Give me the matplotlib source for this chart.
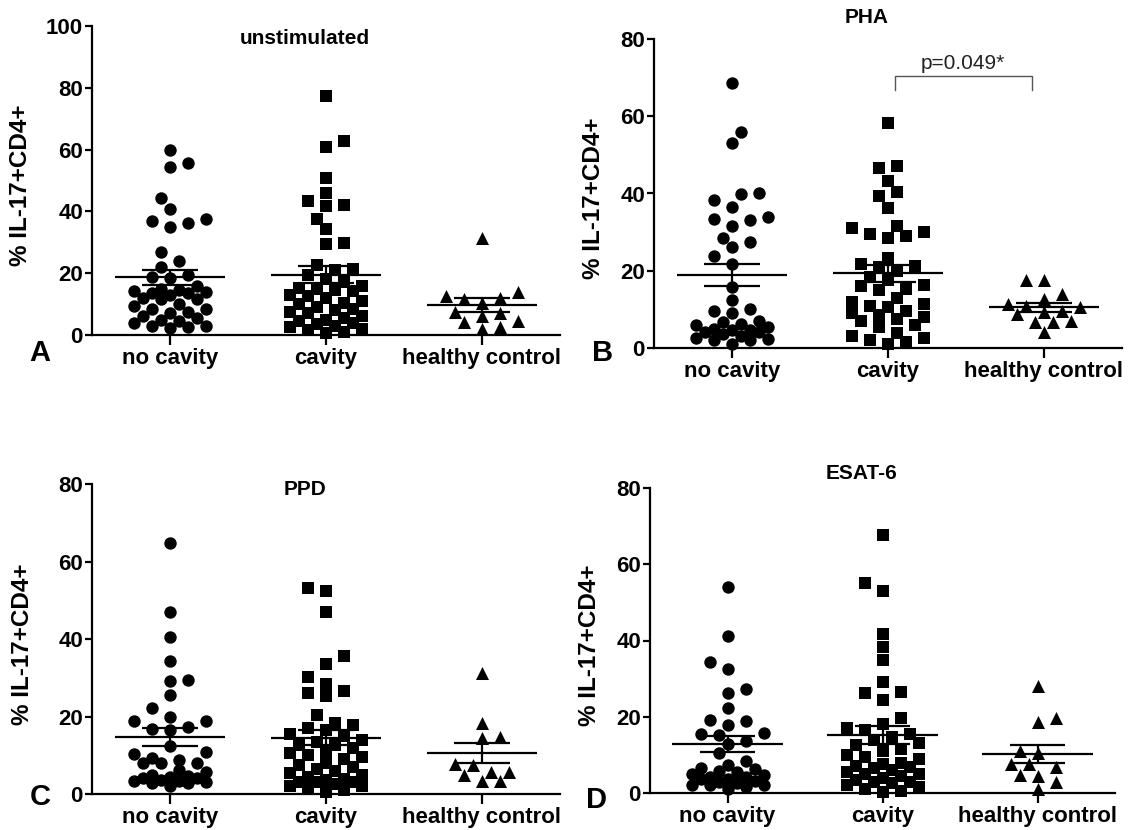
import numpy as np
import matplotlib
matplotlib.use("Agg")
import matplotlib.pyplot as plt

plt.rcParams['font.family'] = ['Liberation Sans', 'DejaVu Sans']
plt.rcParams['font.weight'] = 'bold'

groups = ['no cavity', 'cavity', 'healthy control']

# % IL-17+CD4+ values
unstim_nocav = [60.0, 55.7, 54.3, 44.4, 40.8, 37.6, 36.8, 36.2, 34.9, 26.8, 24.1, 21.9, 19.5,
                18.7, 18.5, 16, 15, 14.5, 14.3, 14, 13.7, 13.5, 13, 12, 11.7, 11.5, 10, 9.4,
                8.5, 8.4, 7.5, 7, 6, 5.6, 5, 4.5, 4, 3, 2.9, 2.5, 2.4]
unstim_cav = [77.5, 62.7, 60.8, 50.9, 45.9, 43.3, 42.2, 41.7, 37.6, 34.3, 29.8, 29.3, 22.5,
              21.4, 21, 19.5, 15.2, 14.1, 18, 17, 16, 15, 14.5, 13, 12.5, 12, 11, 10.5, 10,
              9, 8.5, 8, 7.5, 7, 6, 5.5, 5, 4.5, 4, 3.5, 3, 2.5, 2, 1.5, 1, 0.5]
unstim_hc = [31.5, 14, 12.7, 12, 11.5, 10.5, 7.5, 7, 6.3, 4.4, 4.1, 2.5, 1.9]

pha_nocav = [68.6, 56, 53.2, 40.1, 39.8, 38.3, 36.6, 34, 33.4, 33.1, 31.7, 28.6, 27.4, 26.1,
             23.9, 21.8, 15.7, 12.3, 10.2, 9.7, 9.0, 7, 6.7, 6.3, 6.0, 5.5, 5.0, 4.6, 4.6,
             4.1, 4.1, 3.5, 3.0, 2.6, 2.4, 2.0, 2.0, 1.1]
pha_cav = [58.3, 47, 46.5, 43.3, 40.5, 39.4, 36.2, 31.7, 31, 30.1, 29.5, 29.1, 28.6, 23.2,
           21.8, 21.3, 21, 20, 18.5, 17.5, 16.2, 16, 15.3, 15, 13, 12, 11.5, 11, 10.5, 9.5,
           9, 8.5, 8, 7.5, 7, 6, 5.5, 4, 3, 2.5, 2, 1.5, 1]
pha_hc = [17.5, 17.5, 14, 12.7, 11.4, 11, 10.5, 9.7, 9.3, 8.8, 7.1, 6.7, 6.7, 4.1]

ppd_nocav = [64.8, 47, 40.5, 34.2, 29.5, 29.1, 25.6, 22.2, 20, 18.9, 18.9, 17.3, 16.8, 16.6,
             12.5, 10.8, 10.2, 9.3, 8.9, 8.0, 8.0, 8.0, 6.1, 5.7, 5.0, 4.6, 4.4, 4.1, 4.1,
             3.5, 3.3, 3.3, 3.0, 2.8, 2.8, 2.0]
ppd_cav = [53.2, 52.3, 46.9, 35.7, 33.6, 30.2, 28.5, 26.5, 26.1, 25.2, 20.3, 18.3, 17.9, 17,
           16.5, 15.5, 15, 14, 13.5, 12.7, 12.7, 12, 11, 10.5, 10, 9.5, 9, 8, 7.5, 7, 6.5,
           6, 5.5, 5, 4.5, 4, 3.5, 3, 3, 3, 2.5, 2, 2, 1.5, 1, 0.5]
ppd_hc = [31.2, 18.3, 14.6, 14.5, 7.8, 7.6, 5.8, 5.6, 5.0, 3.3, 3.3]

esat_nocav = [54, 41.3, 34.3, 32.4, 27.4, 26.3, 22.3, 19.1, 19.0, 17.8, 15.7, 15.5, 15.2, 13.7,
              12.9, 10.5, 8.3, 7.4, 6.5, 6.3, 5.8, 5.5, 5.0, 4.8, 4.2, 4.2, 3.7, 3.7, 3.2,
              3.0, 2.5, 2.0, 2.0, 2.0, 1.6, 1.1]
esat_cav = [67.8, 55.2, 53.1, 41.8, 38.3, 34.8, 29.2, 26.6, 26.3, 24.4, 19.8, 18.1, 17, 16.5,
            15.5, 14.8, 14, 13, 12.5, 11.5, 11, 10, 9.5, 9, 8, 7.5, 7, 6.8, 6.5, 6, 5.5, 5,
            5, 4.5, 4, 3.5, 3, 3, 2.5, 2, 1.5, 1, 0.5, 0.3]
esat_hc = [28.0, 19.8, 18.6, 11.1, 10.6, 7.6, 7.6, 6.7, 4.7, 4.5, 2.8, 1.0]

titles = ['unstimulated', 'PHA', 'PPD', 'ESAT-6']
letters = ['A', 'B', 'C', 'D']
ymax = [100, 80, 80, 80]
markers = ['o', 's', '^']
msizes = [80, 68, 88]

W, H = 1130, 830
fig = plt.figure(figsize=(W / 100, H / 100), dpi=100)


def px_axes(x0, x1, y0, y1):
    # pixel box (left, right, y of zero line, y of top tick) -> axes
    return fig.add_axes([x0 / W, 1 - y0 / H, (x1 - x0) / W, (y0 - y1) / H])


def swarm(ax, vals, xc, step=9.0, dmin=12.5, maxk=4):
    # column scatter: greedy placement on a 9 px grid, capped width, overlap when full
    p0 = ax.transData.transform((0, 0))
    p1 = ax.transData.transform((1, 1))
    sx, sy = p1[0] - p0[0], p1[1] - p0[1]
    vals = np.asarray(vals, float)
    xs = np.zeros(len(vals))
    placed = []
    flip = 1
    for i in np.argsort(vals, kind='stable'):
        yp = vals[i] * sy
        cands = [0]
        for j in range(1, maxk + 1):
            cands += [flip * j, -flip * j]
        best, bestd = None, -1
        for c in cands:
            xp = c * step
            d = min([np.hypot(xp - a, yp - b) for a, b in placed] or [1e9])
            if d >= dmin:
                best = c
                break
            if d > bestd + 0.5:
                best, bestd = c, d
        if best != 0:
            flip = -flip
        placed.append((best * step, yp))
        xs[i] = xc + best * step / sx
    return xs


boxes = [(92, 560, 335, 26), (654, 1122, 348, 39), (92, 560, 794, 484), (650, 1115, 793, 488)]
data = [(unstim_nocav, unstim_cav, unstim_hc), (pha_nocav, pha_cav, pha_hc),
        (ppd_nocav, ppd_cav, ppd_hc), (esat_nocav, esat_cav, esat_hc)]
title_y = [96, 85.5, 78.5, 83.7]
letter_pos = [(40, 353), (603, 353), (40, 797), (597, 800)]
ylab_x = [21, 593, 23, 589]

for k in range(4):
    x0, x1, y0, y1 = boxes[k]
    ax = px_axes(x0, x1, y0, y1)
    ax.set_xlim(-0.5, 2.5)
    ax.set_ylim(0, ymax[k])
    for s in ['top', 'right']:
        ax.spines[s].set_visible(False)
    for s in ['left', 'bottom']:
        ax.spines[s].set_linewidth(1.6)
    ax.set_yticks(np.arange(0, ymax[k] + 1, 20))
    ax.set_xticks(range(3))
    ax.set_xticklabels(groups)
    ax.tick_params(axis='y', direction='out', length=5, width=1.6, labelsize=16, pad=1.5)
    ax.tick_params(axis='x', direction='out', length=7, width=1.6, labelsize=16, pad=2)
    for t in ax.get_xticklabels() + ax.get_yticklabels():
        t.set_fontweight('bold')

    for g in range(3):
        vals = np.asarray(data[k][g], float)
        xs = swarm(ax, vals, g)
        ax.scatter(xs, vals, marker=markers[g], s=msizes[g], c='black',
                   linewidths=0, clip_on=False, zorder=3)
        m = vals.mean()
        se = vals.std(ddof=1) / np.sqrt(len(vals))
        ax.hlines(m, g - 0.355, g + 0.355, color='black', lw=1.6, zorder=4)
        ax.hlines([m - se, m + se], g - 0.18, g + 0.18, color='black', lw=1.6, zorder=4)
        ax.vlines(g, m - se, m + se, color='black', lw=1.6, zorder=4)

    ax.text(0.865, title_y[k], titles[k], ha='center', va='center', fontsize=15,
            fontweight='bold', clip_on=False)
    fig.text(ylab_x[k] / W, 1 - ((y0 + y1) / 2 + 5) / H, '% IL-17+CD4+', rotation=90,
             ha='center', va='center', fontsize=17.5, fontweight='bold')
    lx, ly = letter_pos[k]
    fig.text(lx / W, 1 - ly / H, letters[k], ha='center', va='center', fontsize=21,
             fontweight='bold')

    if k == 1:
        bx0, bx1 = 1.045, 1.92
        ax.plot([bx0, bx0, bx1, bx1], [66.9, 70.4, 70.4, 66.9], color='#555555',
                lw=1.0, clip_on=False)
        ax.text((bx0 + bx1) / 2, 71.2, 'p=0.049*', ha='center', va='bottom',
                fontsize=15, fontweight='normal', color='#222222')

fig.savefig('out.png', dpi=100)
